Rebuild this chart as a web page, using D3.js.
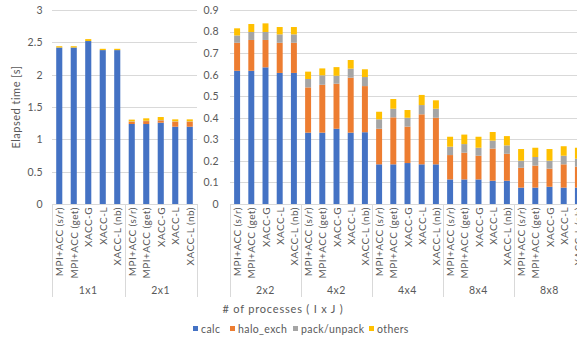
<!DOCTYPE html>
<html>
<head>
<meta charset="utf-8">
<script src="https://cdn.jsdelivr.net/npm/d3@7"></script>
<style>
  html, body { margin: 0; padding: 0; background: #fff; }
  svg { display: block; font-family: Lato, "Open Sans", sans-serif; }
</style>
</head>
<body>
<svg id="chart" width="577" height="338"></svg>
<script>
// Variants measured in every process layout
const variants = ["MPI+ACC (s/r)", "MPI+ACC (get)", "XACC-G", "XACC-L", "XACC-L (nb)"];
const leftGroups = ["1x1", "2x1"];
const rightGroups = ["2x2", "4x2", "4x4", "8x4", "8x8"];
const seriesNames = ["calc", "halo_exch", "pack/unpack", "others"];

// Elapsed time per component [s], ordered by group then variant
const calc = [
  2.42, 2.42, 2.52, 2.38, 2.38,
  1.237, 1.237, 1.257, 1.195, 1.195,
  0.618, 0.618, 0.634, 0.608, 0.608,
  0.331, 0.331, 0.349, 0.331, 0.333,
  0.184, 0.184, 0.190, 0.184, 0.184,
  0.114, 0.114, 0.114, 0.108, 0.108,
  0.076, 0.076, 0.080, 0.076, 0.076
];
const haloExch = [
  0, 0, 0, 0, 0,
  0.036, 0.045, 0.036, 0.078, 0.078,
  0.130, 0.143, 0.127, 0.140, 0.140,
  0.210, 0.222, 0.209, 0.255, 0.214,
  0.165, 0.218, 0.169, 0.232, 0.216,
  0.113, 0.124, 0.110, 0.149, 0.125,
  0.092, 0.102, 0.084, 0.108, 0.097
];
const packUnpack = [
  0, 0, 0, 0, 0,
  0.005, 0.005, 0.005, 0.005, 0.005,
  0.034, 0.037, 0.037, 0.039, 0.039,
  0.039, 0.044, 0.037, 0.042, 0.042,
  0.044, 0.040, 0.041, 0.043, 0.042,
  0.039, 0.040, 0.037, 0.037, 0.039,
  0.033, 0.040, 0.037, 0.040, 0.037
];
const others = [
  0.02, 0.02, 0.03, 0.02, 0.02,
  0.027, 0.038, 0.047, 0.031, 0.031,
  0.033, 0.037, 0.040, 0.034, 0.034,
  0.034, 0.032, 0.040, 0.040, 0.036,
  0.035, 0.045, 0.036, 0.047, 0.039,
  0.046, 0.044, 0.051, 0.040, 0.043,
  0.054, 0.043, 0.054, 0.044, 0.051
];
const leftTicks = [0, 0.5, 1, 1.5, 2, 2.5, 3];
const rightTicks = [0, 0.1, 0.2, 0.3, 0.4, 0.5, 0.6, 0.7, 0.8, 0.9];

const colors = ["#4472C4", "#ED7D31", "#A5A5A5", "#FFC000"];
const textColor = "#595959";
const gridColor = "#D9D9D9";

const allGroups = leftGroups.concat(rightGroups);
const rows = [];
allGroups.forEach((g, gi) => {
  variants.forEach((v, vi) => {
    const i = gi * variants.length + vi;
    rows.push({ group: g, variant: v, calc: calc[i], halo_exch: haloExch[i],
                "pack/unpack": packUnpack[i], others: others[i] });
  });
});
const stacked = d3.stack().keys(seriesNames)(rows);

const svg = d3.select("#chart");
const y0 = 204;

function panel(groups, xRange, yMax, ticks, labelX) {
  const y = d3.scaleLinear().domain([0, yMax]).range([y0, 10]);
  const x0 = d3.scaleBand().domain(groups).range(xRange).padding(0);
  const x1 = d3.scaleBand().domain(variants).range([0, x0.bandwidth()])
    .paddingInner(0.58).paddingOuter(0.29);
  const g = svg.append("g");

  // horizontal gridlines
  g.append("g").selectAll("line").data(ticks).join("line")
    .attr("x1", xRange[0]).attr("x2", Math.min(xRange[1], 577))
    .attr("y1", d => Math.round(y(d)) + 0.5).attr("y2", d => Math.round(y(d)) + 0.5)
    .attr("stroke", gridColor).attr("stroke-width", 1);

  // value axis labels
  const ax = d3.axisLeft(y).tickValues(ticks).tickFormat(d3.format("")).tickSize(0).tickPadding(0);
  const axG = g.append("g").attr("transform", `translate(${labelX},0)`).call(ax);
  axG.select(".domain").remove();
  axG.selectAll("text").attr("fill", textColor).style("font-size", "10.5px")
    .style("font-family", "Lato, sans-serif").style("letter-spacing", "0.3px");

  // stacked bars
  stacked.forEach((layer, li) => {
    g.append("g").attr("fill", colors[li]).selectAll("rect")
      .data(layer.filter(d => groups.includes(d.data.group)))
      .join("rect")
      .attr("x", d => x0(d.data.group) + x1(d.data.variant))
      .attr("width", x1.bandwidth())
      .attr("y", d => y(d[1]))
      .attr("height", d => Math.max(0, y(d[0]) - y(d[1])));
  });

  // category separators
  const edges = groups.map(d => x0(d)).concat([x0(groups[groups.length - 1]) + x0.bandwidth()]);
  g.append("g").selectAll("line").data(edges.filter(e => e <= 577)).join("line")
    .attr("x1", d => Math.round(d) + 0.5).attr("x2", d => Math.round(d) + 0.5)
    .attr("y1", y0).attr("y2", 297)
    .attr("stroke", gridColor).attr("stroke-width", 1);

  // variant labels (rotated)
  groups.forEach(grp => {
    g.append("g").selectAll("text").data(variants).join("text")
      .attr("transform", v => `translate(${x0(grp) + x1(v) + x1.bandwidth() / 2 + 0.5},207) rotate(-90)`)
      .attr("text-anchor", "end").attr("dy", "0.35em")
      .attr("fill", textColor).style("font-size", "10px").style("letter-spacing", "0.45px")
      .text(v => v);
  });

  // group labels
  g.append("g").selectAll("text").data(groups).join("text")
    .attr("x", d => x0(d) + x0.bandwidth() / 2).attr("y", 294)
    .attr("text-anchor", "middle").attr("fill", textColor)
    .style("font-size", "10.5px").style("letter-spacing", "0.5px")
    .text(d => d);
}

panel(leftGroups, [52, 197], 3, leftTicks, 43);
panel(rightGroups, [230, 585], 0.9, rightTicks, 219);

// axis titles
svg.append("text")
  .attr("transform", "translate(20,107) rotate(-90)")
  .attr("text-anchor", "middle").attr("fill", textColor)
  .style("font-size", "11px").style("letter-spacing", "0.5px")
  .text("Elapsed time [s]");
svg.append("text")
  .attr("x", 283).attr("y", 313)
  .attr("text-anchor", "middle").attr("fill", textColor)
  .style("font-size", "11px").style("letter-spacing", "0.8px")
  .text("# of processes ( I x J )");

// legend
const legendX = [193, 230, 293, 369];
const leg = svg.append("g").selectAll("g").data(seriesNames).join("g")
  .attr("transform", (d, i) => `translate(${legendX[i]},329)`);
leg.append("rect").attr("x", 0).attr("y", -3).attr("width", 5).attr("height", 5)
  .attr("fill", (d, i) => colors[i]);
leg.append("text").attr("x", 8).attr("dy", "0.35em")
  .attr("fill", textColor).style("font-size", "10.5px").style("letter-spacing", "0.4px")
  .text(d => d);
</script>
</body>
</html>
